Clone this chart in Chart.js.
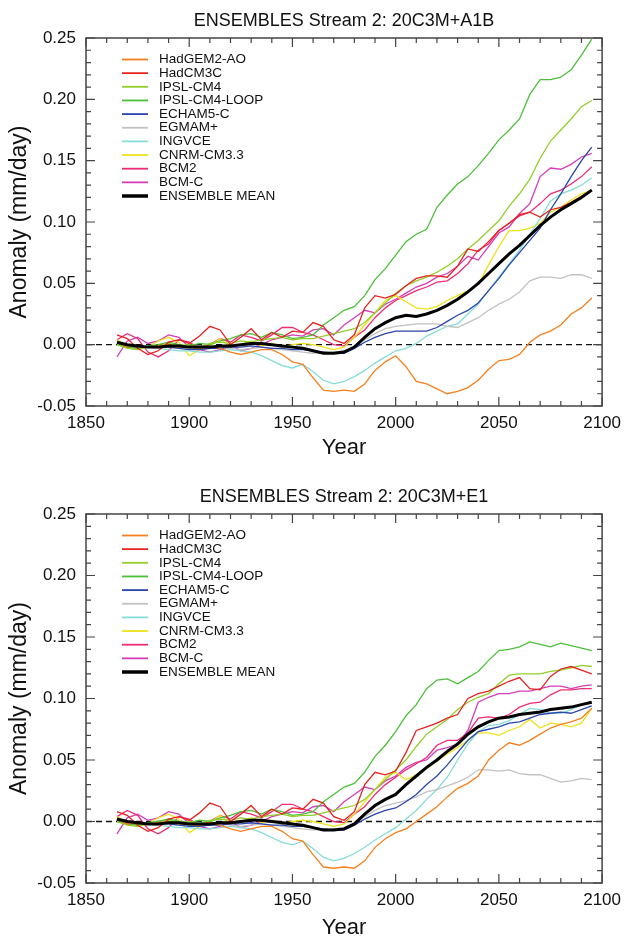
<!DOCTYPE html>
<html>
<head>
<meta charset="utf-8">
<script src="https://cdn.jsdelivr.net/npm/chart.js@4.4.1/dist/chart.umd.min.js"></script>
<style>
  html, body { margin: 0; padding: 0; background: #fff; }
  .panel { position: absolute; left: 0; width: 628px; }
  #top-panel { top: 0; height: 470px; }
  #bottom-panel { top: 468px; height: 469px; }
</style>
</head>
<body>
<div class="panel" id="top-panel"><canvas id="a1b-chart"></canvas></div>
<div class="panel" id="bottom-panel"><canvas id="e1-chart"></canvas></div>
<script>
// Years (5-yr steps). 20C3M part is shared by both panels.
const histYears = [1865, 1870, 1875, 1880, 1885, 1890, 1895, 1900, 1905, 1910, 1915, 1920, 1925, 1930,
  1935, 1940, 1945, 1950, 1955, 1960, 1965, 1970, 1975, 1980, 1985, 1990, 1995, 2000];
const futureYears = [2005, 2010, 2015, 2020, 2025, 2030, 2035, 2040, 2045, 2050, 2055, 2060, 2065,
  2070, 2075, 2080, 2085, 2090, 2095];

const modelNames = ['HadGEM2-AO', 'HadCM3C', 'IPSL-CM4', 'IPSL-CM4-LOOP', 'ECHAM5-C', 'EGMAM+',
  'INGVCE', 'CNRM-CM3.3', 'BCM2', 'BCM-C', 'ENSEMBLE MEAN'];

// 20C3M anomalies (mm/day)
const hadgem2Hist = [0.002, -0.002, -0.001, -0.002, -0.001, 0.000, -0.002, -0.002, -0.003, -0.001, -0.003, -0.006, -0.008, -0.006, -0.004, -0.004, -0.008, -0.014, -0.016, -0.027, -0.037, -0.038, -0.037, -0.038, -0.032, -0.021, -0.014, -0.009];
const hadcm3cHist = [0.008, 0.005, -0.003, -0.008, -0.005, 0.002, 0.004, 0.001, 0.007, 0.015, 0.012, 0.000, 0.006, 0.013, 0.004, 0.010, 0.006, 0.011, 0.010, 0.018, 0.015, 0.004, 0.001, 0.008, 0.030, 0.040, 0.038, 0.041];
const ipslHist = [0.000, -0.003, -0.004, -0.002, -0.001, 0.001, -0.001, 0.000, -0.002, 0.001, 0.002, 0.001, 0.003, 0.002, 0.004, 0.005, 0.006, 0.004, 0.005, 0.005, 0.007, 0.009, 0.011, 0.013, 0.018, 0.026, 0.034, 0.042];
const ipslLoopHist = [0.000, -0.002, -0.003, -0.001, 0.000, 0.002, 0.000, -0.001, 0.001, 0.000, 0.003, 0.005, 0.008, 0.009, 0.006, 0.010, 0.008, 0.005, 0.006, 0.008, 0.016, 0.022, 0.028, 0.031, 0.040, 0.053, 0.062, 0.073];
const echamHist = [0.001, -0.002, -0.002, -0.002, -0.001, -0.002, -0.003, -0.004, -0.004, -0.003, -0.003, -0.002, -0.002, -0.001, -0.002, -0.003, -0.003, -0.004, -0.004, -0.005, -0.006, -0.007, -0.007, -0.003, 0.002, 0.006, 0.009, 0.011];
const egmamHist = [0.001, -0.001, -0.002, -0.002, -0.003, -0.002, -0.003, -0.003, -0.004, -0.003, -0.002, -0.003, -0.004, -0.003, -0.002, -0.003, -0.004, -0.005, -0.006, -0.007, -0.006, -0.006, -0.005, -0.002, 0.004, 0.009, 0.013, 0.015];
const ingvHist = [0.000, -0.002, -0.003, -0.002, -0.003, -0.004, -0.005, -0.005, -0.006, -0.006, -0.005, -0.004, -0.005, -0.006, -0.009, -0.013, -0.017, -0.019, -0.016, -0.022, -0.029, -0.032, -0.030, -0.026, -0.021, -0.015, -0.010, -0.005];
const cnrmHist = [0.004, -0.001, -0.004, -0.002, 0.003, 0.006, 0.002, -0.009, -0.004, -0.001, 0.005, -0.002, 0.000, 0.003, -0.001, 0.001, -0.002, 0.000, 0.001, 0.000, -0.002, -0.004, -0.002, 0.006, 0.016, 0.026, 0.036, 0.040];
const bcm2Hist = [0.004, 0.009, 0.005, -0.006, -0.010, -0.005, 0.004, 0.002, -0.003, 0.000, 0.005, 0.002, 0.008, 0.006, 0.003, 0.008, 0.014, 0.014, 0.010, 0.008, 0.004, 0.000, -0.001, 0.006, 0.012, 0.022, 0.030, 0.036];
const bcmcHist = [-0.010, 0.003, 0.006, 0.001, 0.003, 0.008, 0.006, -0.002, -0.004, -0.006, -0.004, 0.000, -0.005, -0.003, 0.000, 0.004, 0.006, 0.008, 0.007, 0.012, 0.013, 0.008, 0.016, 0.022, 0.028, 0.026, 0.033, 0.037];
const meanHist = [0.002, 0.000, -0.001, -0.002, -0.002, -0.001, -0.001, -0.002, -0.002, -0.002, -0.001, -0.001, 0.000, 0.001, 0.001, 0.000, -0.001, -0.002, -0.003, -0.005, -0.007, -0.007, -0.006, -0.002, 0.006, 0.013, 0.018, 0.022];

// A1B scenario
const hadgem2A1B = [-0.018, -0.030, -0.032, -0.036, -0.040, -0.038, -0.035, -0.029, -0.020, -0.013, -0.012, -0.008, 0.002, 0.008, 0.011, 0.016, 0.025, 0.030, 0.038];
const hadcm3cA1B = [0.048, 0.054, 0.056, 0.056, 0.055, 0.064, 0.078, 0.076, 0.084, 0.093, 0.099, 0.106, 0.108, 0.104, 0.110, 0.112, 0.116, 0.121, 0.126];
const ipslA1B = [0.048, 0.052, 0.055, 0.059, 0.064, 0.070, 0.078, 0.085, 0.093, 0.101, 0.113, 0.123, 0.135, 0.152, 0.166, 0.175, 0.184, 0.194, 0.199];
const ipslLoopA1B = [0.084, 0.090, 0.094, 0.112, 0.122, 0.131, 0.137, 0.146, 0.156, 0.167, 0.175, 0.184, 0.204, 0.216, 0.216, 0.218, 0.224, 0.236, 0.249];
const echamA1B = [0.011, 0.011, 0.011, 0.014, 0.019, 0.024, 0.028, 0.034, 0.044, 0.054, 0.065, 0.075, 0.085, 0.095, 0.110, 0.123, 0.137, 0.150, 0.161];
const egmamA1B = [0.016, 0.017, 0.017, 0.017, 0.015, 0.014, 0.018, 0.022, 0.028, 0.033, 0.037, 0.043, 0.052, 0.055, 0.055, 0.054, 0.057, 0.057, 0.054];
const ingvA1B = [-0.003, 0.001, 0.007, 0.011, 0.015, 0.017, 0.025, 0.033, 0.044, 0.055, 0.066, 0.077, 0.090, 0.103, 0.117, 0.123, 0.126, 0.130, 0.136];
const cnrmA1B = [0.035, 0.030, 0.029, 0.031, 0.036, 0.040, 0.044, 0.049, 0.065, 0.080, 0.093, 0.093, 0.095, 0.099, 0.108, 0.112, 0.118, 0.123, 0.126];
const bcm2A1B = [0.040, 0.044, 0.047, 0.051, 0.052, 0.058, 0.066, 0.077, 0.082, 0.093, 0.099, 0.105, 0.108, 0.115, 0.123, 0.126, 0.131, 0.137, 0.145];
const bcmcA1B = [0.042, 0.047, 0.050, 0.055, 0.058, 0.064, 0.072, 0.069, 0.080, 0.091, 0.096, 0.107, 0.115, 0.137, 0.144, 0.143, 0.147, 0.153, 0.156];
const meanA1B = [0.024, 0.023, 0.025, 0.028, 0.032, 0.037, 0.043, 0.050, 0.058, 0.066, 0.074, 0.081, 0.089, 0.097, 0.104, 0.110, 0.115, 0.120, 0.126];

// E1 scenario
const hadgem2E1 = [-0.006, 0.000, 0.006, 0.012, 0.020, 0.027, 0.031, 0.037, 0.050, 0.058, 0.064, 0.062, 0.066, 0.071, 0.076, 0.079, 0.081, 0.084, 0.092];
const hadcm3cE1 = [0.056, 0.074, 0.077, 0.080, 0.084, 0.087, 0.100, 0.104, 0.106, 0.110, 0.114, 0.117, 0.108, 0.107, 0.118, 0.124, 0.126, 0.123, 0.120];
const ipslE1 = [0.050, 0.061, 0.071, 0.077, 0.083, 0.091, 0.097, 0.101, 0.104, 0.112, 0.119, 0.120, 0.120, 0.120, 0.122, 0.123, 0.125, 0.127, 0.126];
const ipslLoopE1 = [0.086, 0.095, 0.108, 0.115, 0.116, 0.112, 0.117, 0.122, 0.131, 0.139, 0.140, 0.142, 0.146, 0.144, 0.142, 0.145, 0.143, 0.141, 0.139];
const echamE1 = [0.016, 0.022, 0.030, 0.037, 0.046, 0.056, 0.066, 0.073, 0.075, 0.077, 0.080, 0.081, 0.084, 0.087, 0.088, 0.089, 0.088, 0.091, 0.094];
const egmamE1 = [0.017, 0.020, 0.024, 0.026, 0.029, 0.032, 0.036, 0.042, 0.042, 0.041, 0.042, 0.039, 0.038, 0.038, 0.035, 0.032, 0.033, 0.035, 0.034];
const ingvE1 = [0.002, 0.009, 0.018, 0.026, 0.036, 0.050, 0.063, 0.073, 0.078, 0.079, 0.082, 0.087, 0.092, 0.091, 0.088, 0.088, 0.091, 0.095, 0.097];
const cnrmE1 = [0.034, 0.038, 0.043, 0.049, 0.055, 0.060, 0.066, 0.072, 0.072, 0.070, 0.074, 0.077, 0.083, 0.076, 0.080, 0.079, 0.077, 0.080, 0.092];
const bcm2E1 = [0.042, 0.047, 0.052, 0.062, 0.066, 0.066, 0.072, 0.084, 0.085, 0.084, 0.087, 0.093, 0.096, 0.097, 0.103, 0.107, 0.107, 0.108, 0.108];
const bcmcE1 = [0.044, 0.048, 0.050, 0.058, 0.060, 0.063, 0.074, 0.097, 0.101, 0.104, 0.104, 0.106, 0.106, 0.108, 0.110, 0.110, 0.108, 0.110, 0.111];
const meanE1 = [0.030, 0.037, 0.044, 0.050, 0.057, 0.063, 0.071, 0.077, 0.081, 0.084, 0.085, 0.087, 0.088, 0.089, 0.091, 0.092, 0.093, 0.095, 0.097];

const lineColors = ['#f5801f', '#e5231f', '#93cf2c', '#4cbf3a', '#2b45ad', '#c2c2c2',
  '#86dcd6', '#eee21c', '#ee2d76', '#d43eb8', '#000000'];
const fontFamily = '"Liberation Sans", Arial, Helvetica, sans-serif';
const textColor = '#111';

const allYears = histYears.concat(futureYears);

function toPoints(hist, future) {
  return allYears.map((yr, i) => ({ x: yr, y: i < hist.length ? hist[i] : future[i - hist.length] }));
}

function buildDatasets(histList, futureList) {
  return modelNames.map((name, i) => {
    const isMean = i === modelNames.length - 1;
    return {
      label: name,
      data: toPoints(histList[i], futureList[i]),
      borderColor: lineColors[i],
      borderWidth: isMean ? 3 : 1.3,
      pointRadius: 0,
      tension: 0,
      fill: false,
      order: isMean ? 0 : 1
    };
  });
}

// IDL-style frame: box, inward ticks on all sides, dashed zero line
const idlAxes = {
  id: 'idlAxes',
  beforeDatasetsDraw(chart) {
    const { ctx, chartArea, scales: { y } } = chart;
    const y0 = y.getPixelForValue(0);
    ctx.save();
    ctx.setLineDash([6, 4]);
    ctx.strokeStyle = '#111';
    ctx.lineWidth = 1.3;
    ctx.beginPath();
    ctx.moveTo(chartArea.left, y0);
    ctx.lineTo(chartArea.right, y0);
    ctx.stroke();
    ctx.restore();
  },
  afterDraw(chart) {
    const { ctx, chartArea: a, scales: { x, y } } = chart;
    ctx.save();
    ctx.strokeStyle = '#444';
    ctx.lineWidth = 1.5;
    ctx.strokeRect(a.left, a.top, a.right - a.left, a.bottom - a.top);
    ctx.lineWidth = 1.2;
    ctx.beginPath();
    for (let yr = 1850; yr <= 2100; yr += 10) {
      const px = x.getPixelForValue(yr);
      const len = yr % 50 === 0 ? 9 : 5;
      ctx.moveTo(px, a.bottom); ctx.lineTo(px, a.bottom - len);
      ctx.moveTo(px, a.top); ctx.lineTo(px, a.top + len);
    }
    for (let k = -5; k <= 25; k++) {
      const py = y.getPixelForValue(k / 100);
      const len = k % 5 === 0 ? 9 : 5;
      ctx.moveTo(a.left, py); ctx.lineTo(a.left + len, py);
      ctx.moveTo(a.right, py); ctx.lineTo(a.right - len, py);
    }
    ctx.stroke();
    ctx.restore();
  }
};

// legend drawn inside the plot, upper left
const insideLegend = {
  id: 'insideLegend',
  afterDraw(chart) {
    const { ctx, chartArea } = chart;
    ctx.save();
    ctx.font = '13.5px ' + fontFamily;
    ctx.textBaseline = 'middle';
    chart.data.datasets.forEach((ds, i) => {
      const y = chartArea.top + 21.5 + i * 13.65;
      ctx.strokeStyle = ds.borderColor;
      ctx.lineWidth = ds.borderWidth > 2 ? 3.5 : 1.8;
      ctx.beginPath();
      ctx.moveTo(chartArea.left + 36, y);
      ctx.lineTo(chartArea.left + 62, y);
      ctx.stroke();
      ctx.fillStyle = textColor;
      ctx.fillText(ds.label, chartArea.left + 73, y);
    });
    ctx.restore();
  }
};

function makeChart(canvasId, titleText, datasets, titlePad, xHeight, yearPad) {
  return new Chart(document.getElementById(canvasId).getContext('2d'), {
    type: 'line',
    data: { datasets },
    plugins: [idlAxes, insideLegend],
    options: {
      responsive: true,
      maintainAspectRatio: false,
      animation: false,
      layout: { padding: { left: 0, right: 23, top: 0, bottom: 0 } },
      plugins: {
        legend: { display: false },
        tooltip: { enabled: false },
        title: {
          display: true,
          fullSize: false,
          text: titleText,
          color: textColor,
          font: { family: fontFamily, size: 18, weight: 'normal', lineHeight: 1.2 },
          padding: titlePad
        }
      },
      scales: {
        x: {
          type: 'linear',
          min: 1850,
          max: 2100,
          grid: { display: false, drawTicks: false },
          border: { display: false },
          ticks: {
            stepSize: 50,
            padding: 7,
            color: textColor,
            font: { family: fontFamily, size: 17 },
            maxRotation: 0,
            callback: v => String(v)
          },
          title: {
            display: true,
            text: 'Year',
            color: textColor,
            font: { family: fontFamily, size: 22, lineHeight: 0.8 },
            padding: { top: 0, bottom: yearPad }
          },
          afterFit: s => { s.height = xHeight; }
        },
        y: {
          min: -0.05,
          max: 0.25,
          grid: { display: false, drawTicks: false },
          border: { display: false },
          ticks: {
            stepSize: 0.05,
            padding: 10,
            color: textColor,
            font: { family: fontFamily, size: 17 },
            callback: v => (Math.abs(v) < 1e-9 ? '0.00' : v.toFixed(2))
          },
          title: {
            display: true,
            text: 'Anomaly (mm/day)',
            color: textColor,
            font: { family: fontFamily, size: 23, lineHeight: 1.2 },
            padding: { top: 6, bottom: 0 }
          },
          afterFit: s => { s.width = 86; }
        }
      }
    }
  });
}

const a1bSets = buildDatasets(
  [hadgem2Hist, hadcm3cHist, ipslHist, ipslLoopHist, echamHist, egmamHist, ingvHist, cnrmHist, bcm2Hist, bcmcHist, meanHist],
  [hadgem2A1B, hadcm3cA1B, ipslA1B, ipslLoopA1B, echamA1B, egmamA1B, ingvA1B, cnrmA1B, bcm2A1B, bcmcA1B, meanA1B]
);
const e1Sets = buildDatasets(
  [hadgem2Hist, hadcm3cHist, ipslHist, ipslLoopHist, echamHist, egmamHist, ingvHist, cnrmHist, bcm2Hist, bcmcHist, meanHist],
  [hadgem2E1, hadcm3cE1, ipslE1, ipslLoopE1, echamE1, egmamE1, ingvE1, cnrmE1, bcm2E1, bcmcE1, meanE1]
);

makeChart('a1b-chart', 'ENSEMBLES Stream 2: 20C3M+A1B', a1bSets, { top: 10, bottom: 6.4 }, 64, 13);
makeChart('e1-chart', 'ENSEMBLES Stream 2: 20C3M+E1', e1Sets, { top: 18, bottom: 6.4 }, 54, 0);
</script>
</body>
</html>
